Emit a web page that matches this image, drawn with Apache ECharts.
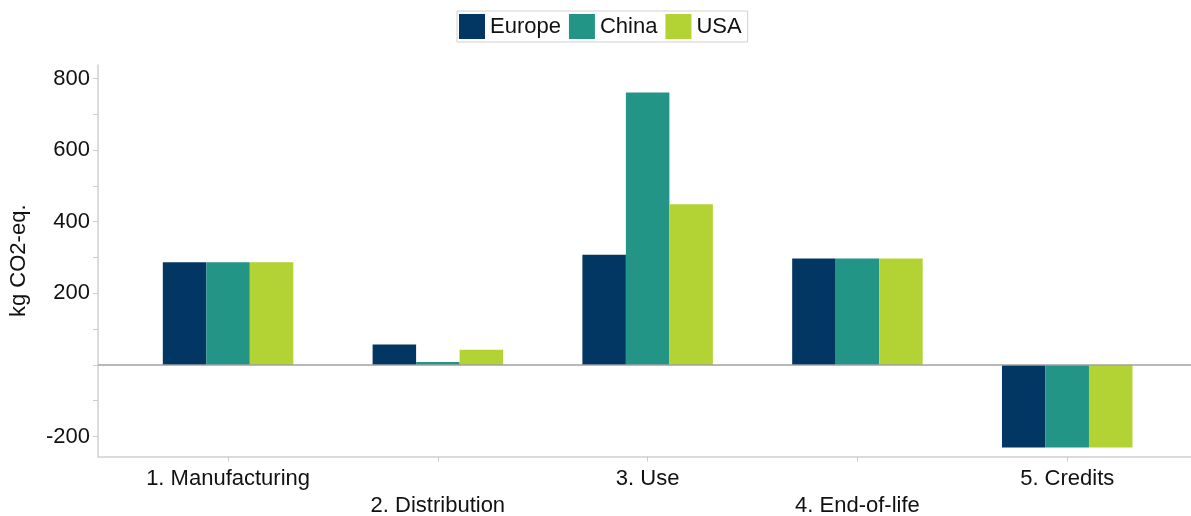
<!DOCTYPE html>
<html>
<head>
<meta charset="utf-8">
<script src="https://cdn.jsdelivr.net/npm/echarts@6/dist/echarts.min.js"></script>
<style>
html,body{margin:0;padding:0;background:#fff;}
#chart{width:1191px;height:516px;}
</style>
</head>
<body>
<div id="chart"></div>
<script>
const categories = ['1. Manufacturing', '2. Distribution', '3. Use', '4. End-of-life', '5. Credits'];
const europe = [287, 57, 308, 297, -231];
const china  = [287, 8, 761, 297, -231];
const usa    = [287, 42, 449, 297, -231];
const yLabelValues = [-200, 200, 400, 600, 800];
const yTickValues = [-200, -100, 0, 100, 200, 300, 400, 500, 600, 700, 800];

const FONT = '"Liberation Sans", Arial, sans-serif';
const toPairs = arr => arr.map((v, i) => [i, v]);

const chart = echarts.init(document.getElementById('chart'), null, {renderer: 'canvas'});
chart.setOption({
  animation: false,
  textStyle: {fontFamily: FONT},
  legend: {
    top: 11,
    left: 457,
    itemWidth: 26,
    itemHeight: 25,
    itemGap: 8,
    padding: [3, 6, 3, 2],
    borderColor: '#d0d0d0',
    borderWidth: 1,
    icon: 'rect',
    textStyle: {fontSize: 22, color: '#111', fontFamily: FONT},
    data: ['Europe', 'China', 'USA']
  },
  grid: {left: 98, right: 0, top: 65, bottom: 59.5, containLabel: false, outerBoundsMode: 'none'},
  xAxis: {
    type: 'value',
    min: -0.62,
    max: 4.59,
    splitLine: {show: false},
    axisLine: {onZero: false, lineStyle: {color: '#d0d0d0', width: 1.5}},
    axisTick: {show: true, customValues: [0, 1, 2, 3, 4], length: 5, lineStyle: {color: '#cccccc'}},
    axisLabel: {
      customValues: [0, 1, 2, 3, 4],
      fontSize: 22,
      color: '#111',
      fontFamily: FONT,
      lineHeight: 27,
      margin: 9,
      formatter: v => (Math.round(v) % 2 === 1 ? '\n' : '') + categories[Math.round(v)]
    }
  },
  yAxis: {
    type: 'value',
    min: -256,
    max: 838,
    name: 'kg CO2-eq.',
    nameLocation: 'middle',
    nameRotate: 90,
    nameGap: 68,
    nameTextStyle: {fontSize: 22, color: '#111', fontFamily: FONT},
    splitLine: {show: false},
    axisLine: {show: true, onZero: false, lineStyle: {color: '#d0d0d0', width: 1.5}},
    axisTick: {show: true, customValues: yTickValues, length: 5, lineStyle: {color: '#cccccc'}},
    axisLabel: {customValues: yLabelValues, fontSize: 22, color: '#111', fontFamily: FONT, margin: 8}
  },
  series: [
    {
      name: 'Europe', type: 'bar', data: toPairs(europe), barWidth: 43.5, barGap: '0%',
      itemStyle: {color: '#023764'},
      markLine: {
        silent: true, symbol: 'none', label: {show: false},
        lineStyle: {color: '#a0a0a0', width: 1.5, type: 'solid'},
        data: [{yAxis: 0}]
      }
    },
    {name: 'China', type: 'bar', data: toPairs(china), barWidth: 43.5, barGap: '0%', itemStyle: {color: '#229587'}},
    {name: 'USA', type: 'bar', data: toPairs(usa), barWidth: 43.5, barGap: '0%', itemStyle: {color: '#b3d335'}}
  ]
});
</script>
</body>
</html>
